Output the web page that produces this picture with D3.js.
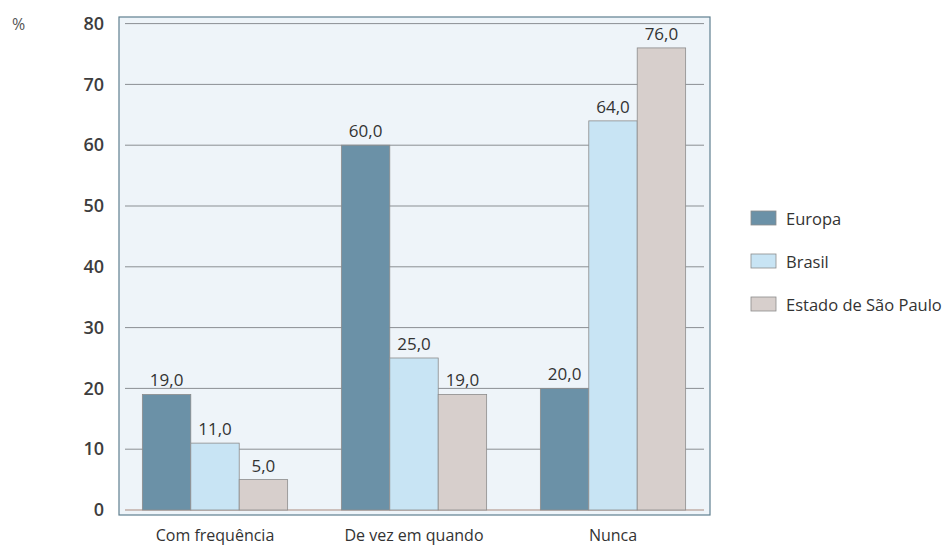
<!DOCTYPE html>
<html>
<head>
<meta charset="utf-8">
<script src="https://cdn.jsdelivr.net/npm/d3@7/dist/d3.min.js"></script>
<style>
  html, body { margin: 0; padding: 0; background: #ffffff; }
  svg { display: block; font-family: "Open Sans", "Noto Sans", sans-serif; }
</style>
</head>
<body>
<svg id="chart" width="948" height="548"></svg>
<script>
// Frequency of the activity, by region (%)
const categories = ["Com frequência", "De vez em quando", "Nunca"];
const seriesNames = ["Europa", "Brasil", "Estado de São Paulo"];
const europa = [19.0, 60.0, 20.0];
const brasil = [11.0, 25.0, 64.0];
const saoPaulo = [5.0, 19.0, 76.0];
const yTicks = [0, 10, 20, 30, 40, 50, 60, 70, 80];
const seriesColors = ["#6b91a7", "#c8e4f4", "#d7cfcc"];

const seriesValues = [europa, brasil, saoPaulo];
const rows = categories.map((c, i) => ({
  category: c,
  values: seriesNames.map((s, j) => ({ series: s, value: seriesValues[j][i], color: seriesColors[j] }))
}));

const svg = d3.select("#chart");

const frame = { left: 119, top: 17, right: 710, bottom: 515 };

const y = d3.scaleLinear().domain([0, 80]).range([510, 23.6]);
const x0 = d3.scaleBand()
  .domain(categories)
  .range([115.5, 712.5])
  .paddingInner(0.27)
  .paddingOuter(0.135);
const x1 = d3.scaleBand()
  .domain(seriesNames)
  .range([0, x0.bandwidth()])
  .padding(0);

// Plot panel
svg.append("rect")
  .attr("x", frame.left).attr("y", frame.top)
  .attr("width", frame.right - frame.left)
  .attr("height", frame.bottom - frame.top)
  .attr("fill", "#eef4f9")
  .attr("stroke", "#5f7f8f")
  .attr("stroke-width", 1.2);

// Horizontal grid lines
svg.append("g")
  .selectAll("line")
  .data(yTicks.filter(d => d > 0))
  .join("line")
  .attr("x1", frame.left + 6).attr("x2", frame.right - 6)
  .attr("y1", d => y(d)).attr("y2", d => y(d))
  .attr("stroke", "#8a8f93")
  .attr("stroke-width", 1);

// Baseline
svg.append("line")
  .attr("x1", frame.left + 6).attr("x2", frame.right - 6)
  .attr("y1", y(0)).attr("y2", y(0))
  .attr("stroke", "#a98a7e")
  .attr("stroke-width", 1.2);

// Y axis labels
const yAxis = d3.axisLeft(y).tickValues(yTicks).tickSize(0).tickPadding(0).tickFormat(d3.format("d"));
const yg = svg.append("g").attr("transform", "translate(104,0)").call(yAxis);
yg.select(".domain").remove();
yg.selectAll("text")
  .attr("font-size", 18)
  .attr("font-weight", 600)
  .attr("fill", "#3d3d3d")
  .attr("font-family", "'Open Sans', sans-serif");

svg.append("text")
  .attr("x", 12).attr("y", 30)
  .attr("font-size", 16)
  .attr("fill", "#555")
  .text("%");

// Bars
const groups = svg.append("g")
  .selectAll("g")
  .data(rows)
  .join("g")
  .attr("transform", d => `translate(${x0(d.category)},0)`);

groups.selectAll("rect")
  .data(d => d.values)
  .join("rect")
  .attr("x", d => x1(d.series))
  .attr("width", x1.bandwidth())
  .attr("y", d => y(d.value))
  .attr("height", d => y(0) - y(d.value))
  .attr("fill", d => d.color)
  .attr("stroke", "#8c8c8c")
  .attr("stroke-width", 0.8);

// Value labels
const fmt = v => d3.format(".1f")(v).replace(".", ",");
groups.selectAll("text")
  .data(d => d.values)
  .join("text")
  .attr("x", d => x1(d.series) + x1.bandwidth() / 2)
  .attr("y", d => y(d.value) - 8)
  .attr("text-anchor", "middle")
  .attr("font-size", 17)
  .attr("fill", "#333")
  .text(d => fmt(d.value));

// Category labels
const xAxis = d3.axisBottom(x0).tickSize(0).tickPadding(0);
const xg = svg.append("g").call(xAxis);
xg.select(".domain").remove();
xg.selectAll("text")
  .attr("y", 541)
  .attr("dy", 0)
  .attr("font-size", 16)
  .attr("fill", "#333")
  .attr("font-family", "'Open Sans', sans-serif");

// Legend
const legend = svg.append("g")
  .selectAll("g")
  .data(seriesNames)
  .join("g")
  .attr("transform", (d, i) => `translate(751,${211 + i * 43})`);

legend.append("rect")
  .attr("width", 25).attr("height", 14)
  .attr("fill", (d, i) => seriesColors[i])
  .attr("stroke", "#8c8c8c")
  .attr("stroke-width", 0.8);

legend.append("text")
  .attr("x", 35).attr("y", 14)
  .attr("font-size", 16.5)
  .attr("fill", "#333")
  .text(d => d);
</script>
</body>
</html>
